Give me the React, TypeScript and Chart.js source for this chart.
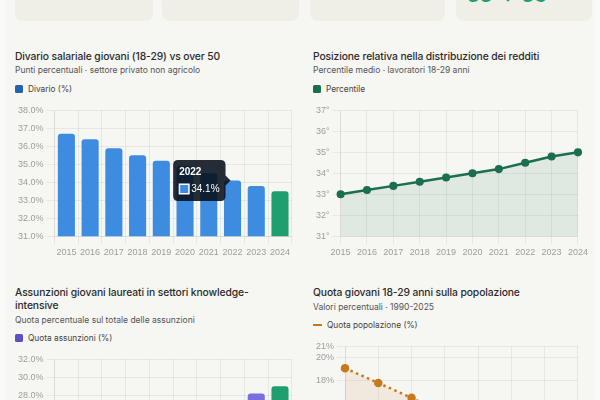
import React, { useEffect, useRef } from "react";
import { Chart, registerables } from "chart.js";

Chart.register(...registerables);

// ---------- DATA ----------
const years = ["2015", "2016", "2017", "2018", "2019", "2020", "2021", "2022", "2023", "2024"];

const divarioValues = [36.7, 36.4, 35.9, 35.5, 35.2, 34.9, 34.5, 34.1, 33.8, 33.5];
const divarioTicks = [31, 32, 33, 34, 35, 36, 37, 38];

const percentileValues = [33.0, 33.2, 33.4, 33.6, 33.8, 34.0, 34.2, 34.5, 34.8, 35.0];
const percentileTicks = [31, 32, 33, 34, 35, 36, 37];

const assunzioniValues = [21.6, 22.3, 23.0, 23.6, 24.3, 24.9, 25.8, 27.0, 28.2, 29.0];
const assunzioniTicks = [18, 20, 22, 24, 26, 28, 30, 32];

const popYears = ["1990", "1995", "2000", "2005", "2010", "2015", "2020", "2025"];
const popValues = [19.1, 17.8, 16.5, 15.1, 14.0, 13.1, 12.5, 12.1];
const popTicks = [10, 12, 14, 16, 18, 20, 21];

const kpiLabels = ["Divario salariale 2024", "Variazione 2015-2024", "Quota assunzioni 2024", "Percentile medio"];
const kpiValues = ["33.5%", "-3.2 pp", "29.0%", "33 → 35"];

// ---------- COLORS ----------
const BLUE = "#3d8ce0";
const GREEN = "#1f9e70";
const DARK_GREEN = "#1b6e50";
const PURPLE = "#7a6fdf";
const ORANGE = "#c8781c";
const GRID = "rgba(0,0,0,0.06)";
const TICK = "#9d9d9d";

const tickFont = { size: 9, family: "'Helvetica Neue', Helvetica, Arial, sans-serif" };

function fixedTicks(values: number[]) {
  return (axis: any) => {
    axis.ticks = values.map((v) => ({ value: v }));
  };
}

function baseScales(yTicks: number[], fmt: (v: number) => string) {
  return {
    x: {
      grid: { color: GRID, tickColor: GRID },
      border: { color: GRID },
      ticks: { color: TICK, font: tickFont, maxRotation: 0, autoSkip: false },
    },
    y: {
      min: yTicks[0],
      max: yTicks[yTicks.length - 1],
      afterBuildTicks: fixedTicks(yTicks),
      grid: { color: GRID, tickColor: GRID },
      border: { color: GRID },
      ticks: { color: TICK, font: tickFont, callback: (v: any) => fmt(Number(v)) },
    },
  };
}

function ChartCanvas({ config, tooltipIndex }: { config: any; tooltipIndex?: number }) {
  const ref = useRef<HTMLCanvasElement | null>(null);
  useEffect(() => {
    if (!ref.current) return;
    const chart = new Chart(ref.current, config);
    if (tooltipIndex !== undefined) {
      chart.tooltip!.setActiveElements([{ datasetIndex: 0, index: tooltipIndex }], { x: 0, y: 0 });
      chart.update();
    }
    return () => chart.destroy();
  }, []);
  return (
    <div style={{ position: "relative", width: "100%", height: 159 }}>
      <canvas ref={ref} />
    </div>
  );
}

const FONT = "Inter, 'Noto Sans', sans-serif";

function Panel({
  left,
  top,
  width,
  title,
  subtitle,
  legendLabel,
  legendColor,
  legendLine,
  children,
}: any) {
  return (
    <div style={{ position: "absolute", left, top, width, fontFamily: FONT }}>
      <div style={{ fontSize: 10.3, lineHeight: "13px", fontWeight: 500, color: "#2b2b2b", letterSpacing: -0.1 }}>
        {title}
      </div>
      <div style={{ fontSize: 8.5, lineHeight: "12px", marginTop: 1.5, color: "#555" }}>{subtitle}</div>
      <div style={{ display: "flex", alignItems: "center", height: 12, marginTop: 6.5, fontSize: 8.3, color: "#444" }}>
        {legendLine ? (
          <span style={{ display: "inline-block", width: 9, height: 2, background: legendColor, marginRight: 5 }} />
        ) : (
          <span
            style={{ display: "inline-block", width: 8, height: 8, borderRadius: 1.5, background: legendColor, marginRight: 5 }}
          />
        )}
        <span>{legendLabel}</span>
      </div>
      <div style={{ marginTop: 7 }}>{children}</div>
    </div>
  );
}

const tooltipOpts = {
  enabled: true,
  backgroundColor: "rgba(8,16,26,0.88)",
  titleColor: "#fff",
  bodyColor: "#fff",
  titleFont: { size: 10, weight: "bold" as const },
  bodyFont: { size: 10 },
  padding: 6,
  cornerRadius: 5,
  caretSize: 5,
  titleMarginBottom: 5,
  boxWidth: 10,
  boxHeight: 10,
  boxPadding: 0,
  displayColors: true,
  callbacks: {
    label: (ctx: any) => ctx.parsed.y.toFixed(1) + "%",
    labelColor: () => ({ borderColor: "#ffffff", backgroundColor: BLUE, borderWidth: 1, borderRadius: 0 }),
  },
};

export default function App() {
  const divarioConfig = {
    type: "bar",
    data: {
      labels: years,
      datasets: [
        {
          label: "Divario (%)",
          data: divarioValues,
          backgroundColor: divarioValues.map((_, i) => (i === divarioValues.length - 1 ? GREEN : BLUE)),
          hoverBackgroundColor: divarioValues.map((_, i) => (i === divarioValues.length - 1 ? GREEN : BLUE)),
          borderRadius: 3,
          borderSkipped: "start",
        },
      ],
    },
    options: {
      animation: false,
      responsive: true,
      maintainAspectRatio: false,
      plugins: { legend: { display: false }, tooltip: tooltipOpts },
      scales: baseScales(divarioTicks, (v) => v.toFixed(1) + "%"),
    },
  };

  const percentileConfig = {
    type: "line",
    data: {
      labels: years,
      datasets: [
        {
          label: "Percentile",
          data: percentileValues,
          borderColor: DARK_GREEN,
          backgroundColor: "rgba(27,110,80,0.10)",
          pointBackgroundColor: DARK_GREEN,
          pointBorderColor: DARK_GREEN,
          pointRadius: 2.8,
          borderWidth: 2.5,
          fill: "start",
          tension: 0,
        },
      ],
    },
    options: {
      animation: false,
      responsive: true,
      maintainAspectRatio: false,
      plugins: { legend: { display: false }, tooltip: { enabled: false } },
      scales: baseScales(percentileTicks, (v) => v + "°"),
    },
  };

  const assunzioniConfig = {
    type: "bar",
    data: {
      labels: years,
      datasets: [
        {
          label: "Quota assunzioni (%)",
          data: assunzioniValues,
          backgroundColor: assunzioniValues.map((_, i) => (i === assunzioniValues.length - 1 ? GREEN : PURPLE)),
          borderRadius: 3,
          borderSkipped: "start",
        },
      ],
    },
    options: {
      animation: false,
      responsive: true,
      maintainAspectRatio: false,
      plugins: { legend: { display: false }, tooltip: { enabled: false } },
      scales: baseScales(assunzioniTicks, (v) => v.toFixed(1) + "%"),
    },
  };

  const popConfig = {
    type: "line",
    data: {
      labels: popYears,
      datasets: [
        {
          label: "Quota popolazione (%)",
          data: popValues,
          borderColor: ORANGE,
          backgroundColor: "rgba(200,120,28,0.10)",
          pointBackgroundColor: ORANGE,
          pointBorderColor: ORANGE,
          pointRadius: 3,
          borderWidth: 2.5,
          borderDash: [2.5, 3.5],
          fill: "start",
          tension: 0,
        },
      ],
    },
    options: {
      animation: false,
      responsive: true,
      maintainAspectRatio: false,
      plugins: { legend: { display: false }, tooltip: { enabled: false } },
      scales: baseScales(popTicks, (v) => v + "%"),
    },
  };

  const cards = [
    { left: 15, width: 138 },
    { left: 162, width: 137 },
    { left: 310, width: 135 },
    { left: 456, width: 136 },
  ];

  return (
    <div
      style={{
        position: "fixed",
        left: 0,
        top: 0,
        width: 600,
        height: 400,
        overflow: "hidden",
        background: "#fafaf8",
      }}
    >
      <div style={{ position: "absolute", left: 5, top: 0, width: 590, height: 400, background: "#f6f6f3" }} />
      {cards.map((c, i) => (
        <div
          key={i}
          style={{
            position: "absolute",
            left: c.left,
            top: -70,
            width: c.width,
            height: 91,
            borderRadius: 8,
            background: "#efeee7",
            fontFamily: FONT,
            boxSizing: "border-box",
            padding: "10px 11px",
          }}
        >
          <div style={{ fontSize: 8, color: "#666", lineHeight: "11px" }}>{kpiLabels[i]}</div>
          <div
            style={{
              fontSize: 20,
              fontWeight: 600,
              lineHeight: "24px",
              color: GREEN,
              marginTop: i === 3 ? 32 : 14,
              whiteSpace: "nowrap",
              visibility: i === 3 ? "visible" : "hidden",
            }}
          >
            {kpiValues[i]}
          </div>
        </div>
      ))}

      <Panel
        left={15}
        top={49.5}
        width={278}
        title="Divario salariale giovani (18-29) vs over 50"
        subtitle="Punti percentuali · settore privato non agricolo"
        legendLabel="Divario (%)"
        legendColor="#2563b0"
      >
        <ChartCanvas config={divarioConfig} tooltipIndex={7} />
      </Panel>

      <Panel
        left={313}
        top={49.5}
        width={278}
        title="Posizione relativa nella distribuzione dei redditi"
        subtitle="Percentile medio · lavoratori 18-29 anni"
        legendLabel="Percentile"
        legendColor={DARK_GREEN}
      >
        <ChartCanvas config={percentileConfig} />
      </Panel>

      <Panel
        left={15}
        top={286}
        width={278}
        title={
          <>
            <div style={{ whiteSpace: "nowrap" }}>Assunzioni giovani laureati in settori knowledge-</div>
            <div>intensive</div>
          </>
        }
        subtitle="Quota percentuale sul totale delle assunzioni"
        legendLabel="Quota assunzioni (%)"
        legendColor="#5b4fc4"
      >
        <ChartCanvas config={assunzioniConfig} />
      </Panel>

      <Panel
        left={313}
        top={286}
        width={278}
        title="Quota giovani 18-29 anni sulla popolazione"
        subtitle="Valori percentuali · 1990-2025"
        legendLabel="Quota popolazione (%)"
        legendColor={ORANGE}
        legendLine
      >
        <ChartCanvas config={popConfig} />
      </Panel>
    </div>
  );
}
